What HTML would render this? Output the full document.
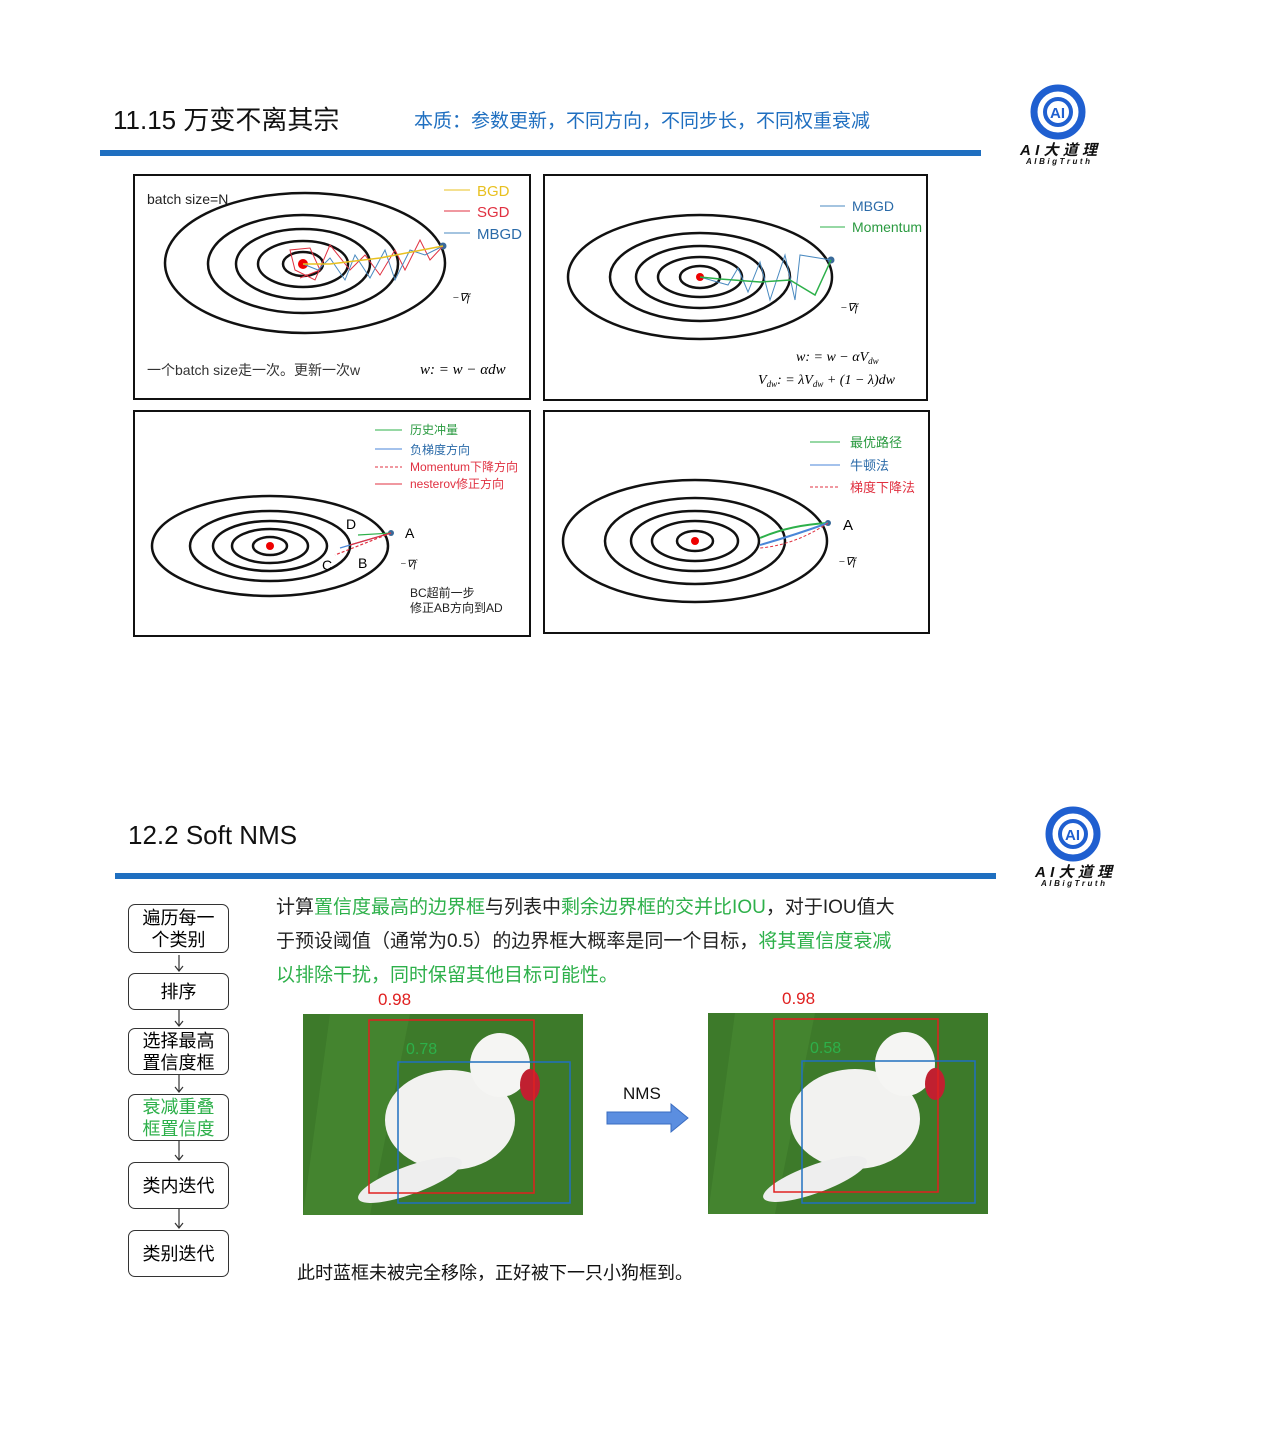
<!DOCTYPE html>
<html><head><meta charset="utf-8"><style>
body{margin:0;width:1280px;height:1440px;background:#fff;position:relative;font-family:"Liberation Sans","Noto Sans CJK SC",sans-serif;overflow:hidden}
.a{position:absolute;white-space:nowrap}
.box{position:absolute;left:128px;width:99px;border:1.5px solid #333;border-radius:7px;text-align:center;font-size:18px;line-height:22px;display:flex;align-items:center;justify-content:center;flex-direction:column}
.g{color:#2db04a}
</style></head><body>
<div class="a" style="left:113px;top:100px;font-size:26px;color:#111">11.15 万变不离其宗</div>
<div class="a" style="left:414px;top:106px;font-size:19px;color:#1f6fc0">本质：参数更新，不同方向，不同步长，不同权重衰减</div>
<div class="a" style="left:100px;top:150px;width:881px;height:6px;background:#1f6fc0"></div>

<svg class="a" style="left:0;top:0" width="1280" height="1440">
<!-- logo 1 -->
<g transform="translate(1058,112)"><circle r="24" fill="none" stroke="#1f5fd0" stroke-width="7"/><circle r="13" fill="none" stroke="#1f5fd0" stroke-width="4"/><text x="-8" y="6" font-size="15" font-weight="bold" fill="#1f5fd0" font-family="Liberation Sans">AI</text></g>
<text x="1020" y="155" font-size="15" font-weight="bold" font-style="italic" fill="#111" textLength="77">AI大道理</text>
<text x="1026" y="164" font-size="8" font-weight="bold" font-style="italic" fill="#111" textLength="64">AIBigTruth</text>
<g transform="translate(1073,834)"><circle r="24" fill="none" stroke="#1f5fd0" stroke-width="7"/><circle r="13" fill="none" stroke="#1f5fd0" stroke-width="4"/><text x="-8" y="6" font-size="15" font-weight="bold" fill="#1f5fd0" font-family="Liberation Sans">AI</text></g>
<text x="1035" y="877" font-size="15" font-weight="bold" font-style="italic" fill="#111" textLength="77">AI大道理</text>
<text x="1041" y="886" font-size="8" font-weight="bold" font-style="italic" fill="#111" textLength="64">AIBigTruth</text>

<g fill="none" stroke="#111" stroke-width="2">
<rect x="134" y="175" width="396" height="224"/>
<rect x="544" y="175" width="383" height="225"/>
<rect x="134" y="411" width="396" height="225"/>
<rect x="544" y="411" width="385" height="222"/>
</g>
<!-- panel1 -->
<g fill="none" stroke="#111" stroke-width="2.5">
<ellipse cx="305" cy="263" rx="140" ry="70"/><ellipse cx="303" cy="264" rx="95" ry="49"/><ellipse cx="303" cy="264" rx="67" ry="35"/><ellipse cx="303" cy="264" rx="45" ry="23"/><ellipse cx="303" cy="264" rx="20" ry="12"/>
</g>
<circle cx="303" cy="264" r="5" fill="#e00"/><circle cx="443" cy="246" r="3.5" fill="#3a6a9a"/>
<polyline fill="none" stroke="#e03040" stroke-width="1" points="443,246 430,260 420,240 405,270 395,250 380,275 365,255 350,270 330,245 315,280 295,270 290,250 310,248 320,270 300,278"/>
<polyline fill="none" stroke="#4a8ac0" stroke-width="1" points="443,246 425,255 410,250 395,280 385,250 370,278 355,255 345,280 330,258 318,270 303,264"/>
<polyline fill="none" stroke="#e8c020" stroke-width="1.5" points="443,246 380,258 330,264 303,264"/>
<text x="147" y="204" font-size="14" fill="#222">batch size=N</text>
<line x1="444" y1="190" x2="470" y2="190" stroke="#e8c020"/><text x="477" y="196" font-size="15" fill="#e8c020">BGD</text>
<line x1="444" y1="211" x2="470" y2="211" stroke="#e03040"/><text x="477" y="217" font-size="15" fill="#e03040">SGD</text>
<line x1="444" y1="233" x2="470" y2="233" stroke="#4a8ac0"/><text x="477" y="239" font-size="15" fill="#2a6aa8">MBGD</text>
<text x="452" y="301" font-size="11" font-style="italic" font-family="Liberation Serif">−∇f</text>
<text x="147" y="375" font-size="14" fill="#333">一个batch size走一次。更新一次w</text>
<text x="420" y="374" font-size="15" font-style="italic" font-family="Liberation Serif">w: = w − αdw</text>
<!-- panel2 -->
<g fill="none" stroke="#111" stroke-width="2.5">
<ellipse cx="700" cy="277" rx="132" ry="62"/><ellipse cx="700" cy="277" rx="90" ry="44"/><ellipse cx="700" cy="277" rx="64" ry="31"/><ellipse cx="700" cy="277" rx="42" ry="20"/><ellipse cx="700" cy="277" rx="20" ry="11"/>
</g>
<circle cx="700" cy="277" r="4" fill="#e00"/><circle cx="831" cy="260" r="3.5" fill="#3a6a9a"/>
<polyline fill="none" stroke="#4a8ac0" stroke-width="1" points="831,260 800,255 795,300 785,255 770,300 760,262 748,292 738,268 728,285 700,277"/>
<polyline fill="none" stroke="#2db04a" stroke-width="1.5" points="831,260 815,295 790,280 760,282 720,279 700,277"/>
<line x1="820" y1="206" x2="845" y2="206" stroke="#4a8ac0"/><text x="852" y="211" font-size="14" fill="#2a6aa8">MBGD</text>
<line x1="820" y1="227" x2="845" y2="227" stroke="#2db04a"/><text x="852" y="232" font-size="14" fill="#2a9a40">Momentum</text>
<text x="840" y="311" font-size="11" font-style="italic" font-family="Liberation Serif">−∇f</text>
<text x="796" y="361" font-size="14" font-style="italic" font-family="Liberation Serif">w: = w − αV<tspan font-size="9" dy="3">dw</tspan></text>
<text x="758" y="384" font-size="14" font-style="italic" font-family="Liberation Serif">V<tspan font-size="9" dy="3">dw</tspan><tspan dy="-3">: = λV</tspan><tspan font-size="9" dy="3">dw</tspan><tspan dy="-3"> + (1 − λ)dw</tspan></text>
<!-- panel3 -->
<g fill="none" stroke="#111" stroke-width="2.5">
<ellipse cx="270" cy="546" rx="118" ry="50"/><ellipse cx="270" cy="546" rx="80" ry="35"/><ellipse cx="270" cy="546" rx="57" ry="25"/><ellipse cx="270" cy="546" rx="38" ry="17"/><ellipse cx="270" cy="546" rx="17" ry="9"/>
</g>
<circle cx="270" cy="546" r="4" fill="#e00"/><circle cx="391" cy="533" r="3" fill="#3a6a9a"/>
<g stroke-width="1.2"><line x1="391" y1="533" x2="358" y2="535" stroke="#2db04a"/><line x1="391" y1="533" x2="340" y2="548" stroke="#4a86d8"/><line x1="391" y1="533" x2="335" y2="555" stroke="#e03040" stroke-dasharray="3,2"/><line x1="391" y1="533" x2="350" y2="545" stroke="#e03040"/></g>
<text x="346" y="529" font-size="14">D</text><text x="405" y="538" font-size="14">A</text><text x="358" y="568" font-size="14">B</text><text x="322" y="570" font-size="14">C</text>
<text x="400" y="567" font-size="10" font-style="italic" font-family="Liberation Serif">−∇f</text>
<line x1="375" y1="430" x2="402" y2="430" stroke="#2db04a"/><text x="410" y="434" font-size="12" fill="#2a9a40">历史冲量</text>
<line x1="375" y1="449" x2="402" y2="449" stroke="#4a86d8"/><text x="410" y="454" font-size="12" fill="#2a6aa8">负梯度方向</text>
<line x1="375" y1="467" x2="402" y2="467" stroke="#e03040" stroke-dasharray="3,2"/><text x="410" y="471" font-size="12" fill="#e03040">Momentum下降方向</text>
<line x1="375" y1="484" x2="402" y2="484" stroke="#e03040"/><text x="410" y="488" font-size="12" fill="#e03040">nesterov修正方向</text>
<text x="410" y="597" font-size="12" fill="#222">BC超前一步</text><text x="410" y="612" font-size="12" fill="#222">修正AB方向到AD</text>
<!-- panel4 -->
<g fill="none" stroke="#111" stroke-width="2.5">
<ellipse cx="695" cy="541" rx="132" ry="61"/><ellipse cx="695" cy="541" rx="90" ry="43"/><ellipse cx="695" cy="541" rx="64" ry="30"/><ellipse cx="695" cy="541" rx="43" ry="20"/><ellipse cx="695" cy="541" rx="18" ry="10"/>
</g>
<circle cx="695" cy="541" r="4" fill="#e00"/><circle cx="828" cy="523" r="3" fill="#3a6a9a"/>
<path d="M828,523 Q790,525 760,538" fill="none" stroke="#2db04a" stroke-width="2"/>
<path d="M828,523 Q795,535 760,545" fill="none" stroke="#4a86d8" stroke-width="2"/>
<path d="M828,523 Q795,545 760,548" fill="none" stroke="#e03040" stroke-width="1" stroke-dasharray="3,2"/>
<text x="843" y="530" font-size="15">A</text><text x="838" y="565" font-size="11" font-style="italic" font-family="Liberation Serif">−∇f</text>
<line x1="810" y1="442" x2="840" y2="442" stroke="#2db04a"/><text x="850" y="447" font-size="13" fill="#2a9a40">最优路径</text>
<line x1="810" y1="465" x2="840" y2="465" stroke="#4a86d8"/><text x="850" y="470" font-size="13" fill="#2a6aa8">牛顿法</text>
<line x1="810" y1="487" x2="840" y2="487" stroke="#e03040" stroke-dasharray="3,2"/><text x="850" y="492" font-size="13" fill="#e03040">梯度下降法</text>

<!-- flow arrows -->
<g stroke="#333" stroke-width="1.2" fill="none">
<line x1="179" y1="955" x2="179" y2="971"/><line x1="179" y1="1010" x2="179" y2="1026"/><line x1="179" y1="1075" x2="179" y2="1092"/><line x1="179" y1="1141" x2="179" y2="1160"/><line x1="179" y1="1209" x2="179" y2="1228"/>
<path d="M175,966L179,971L183,966M175,1021L179,1026L183,1021M175,1087L179,1092L183,1087M175,1155L179,1160L183,1155M175,1223L179,1228L183,1223"/>
</g>
<!-- images -->
<g>
<rect x="303" y="1014" width="280" height="201" fill="#3d7a2a"/>
<path d="M330,1014h80l-40,201h-67z" fill="#4a8a33" opacity=".6"/>
<ellipse cx="450" cy="1120" rx="65" ry="50" fill="#f2f2f0"/><ellipse cx="500" cy="1065" rx="30" ry="32" fill="#f5f5f3"/><ellipse cx="410" cy="1180" rx="55" ry="14" fill="#eee" transform="rotate(-20 410 1180)"/><ellipse cx="530" cy="1085" rx="10" ry="16" fill="#c02030"/>
<rect x="369" y="1020" width="165" height="173" fill="none" stroke="#e02020" stroke-width="1.5"/>
<rect x="398" y="1062" width="172" height="141" fill="none" stroke="#2070c0" stroke-width="1.5"/>
<text x="406" y="1054" font-size="16" fill="#2db04a">0.78</text>
<rect x="708" y="1013" width="280" height="201" fill="#3d7a2a"/>
<path d="M735,1013h80l-40,201h-67z" fill="#4a8a33" opacity=".6"/>
<ellipse cx="855" cy="1119" rx="65" ry="50" fill="#f2f2f0"/><ellipse cx="905" cy="1064" rx="30" ry="32" fill="#f5f5f3"/><ellipse cx="815" cy="1179" rx="55" ry="14" fill="#eee" transform="rotate(-20 815 1179)"/><ellipse cx="935" cy="1084" rx="10" ry="16" fill="#c02030"/>
<rect x="774" y="1019" width="164" height="173" fill="none" stroke="#e02020" stroke-width="1.5"/>
<rect x="802" y="1061" width="173" height="142" fill="none" stroke="#2070c0" stroke-width="1.5"/>
<text x="810" y="1053" font-size="16" fill="#2db04a">0.58</text>
</g>
<path d="M607,1112h64v-8l17,14l-17,14v-8h-64z" fill="#5b8ee0" stroke="#3a6cc0"/>
</svg>

<div class="a" style="left:128px;top:820px;font-size:26px;color:#111">12.2 Soft NMS</div>
<div class="a" style="left:115px;top:873px;width:881px;height:6px;background:#1f6fc0"></div>

<div class="box" style="top:904px;height:47px">遍历每一<br>个类别</div>
<div class="box" style="top:973px;height:35px">排序</div>
<div class="box" style="top:1028px;height:45px">选择最高<br>置信度框</div>
<div class="box g" style="top:1094px;height:45px">衰减重叠<br>框置信度</div>
<div class="box" style="top:1162px;height:45px">类内迭代</div>
<div class="box" style="top:1230px;height:45px">类别迭代</div>

<div class="a" style="left:276px;top:891px;font-size:19px;line-height:34px;color:#222">计算<span class="g">置信度最高的边界框</span>与列表中<span class="g">剩余边界框的交并比IOU</span>，对于IOU值大<br>于预设阈值（通常为0.5）的边界框大概率是同一个目标，<span class="g">将其置信度衰减</span><br><span class="g">以排除干扰，同时保留其他目标可能性。</span></div>
<div class="a" style="left:378px;top:990px;font-size:17px;color:#e02020">0.98</div>
<div class="a" style="left:782px;top:989px;font-size:17px;color:#e02020">0.98</div>
<div class="a" style="left:623px;top:1084px;font-size:17px;color:#111">NMS</div>
<div class="a" style="left:297px;top:1259px;font-size:18px;color:#111">此时蓝框未被完全移除，正好被下一只小狗框到。</div>
</body></html>
